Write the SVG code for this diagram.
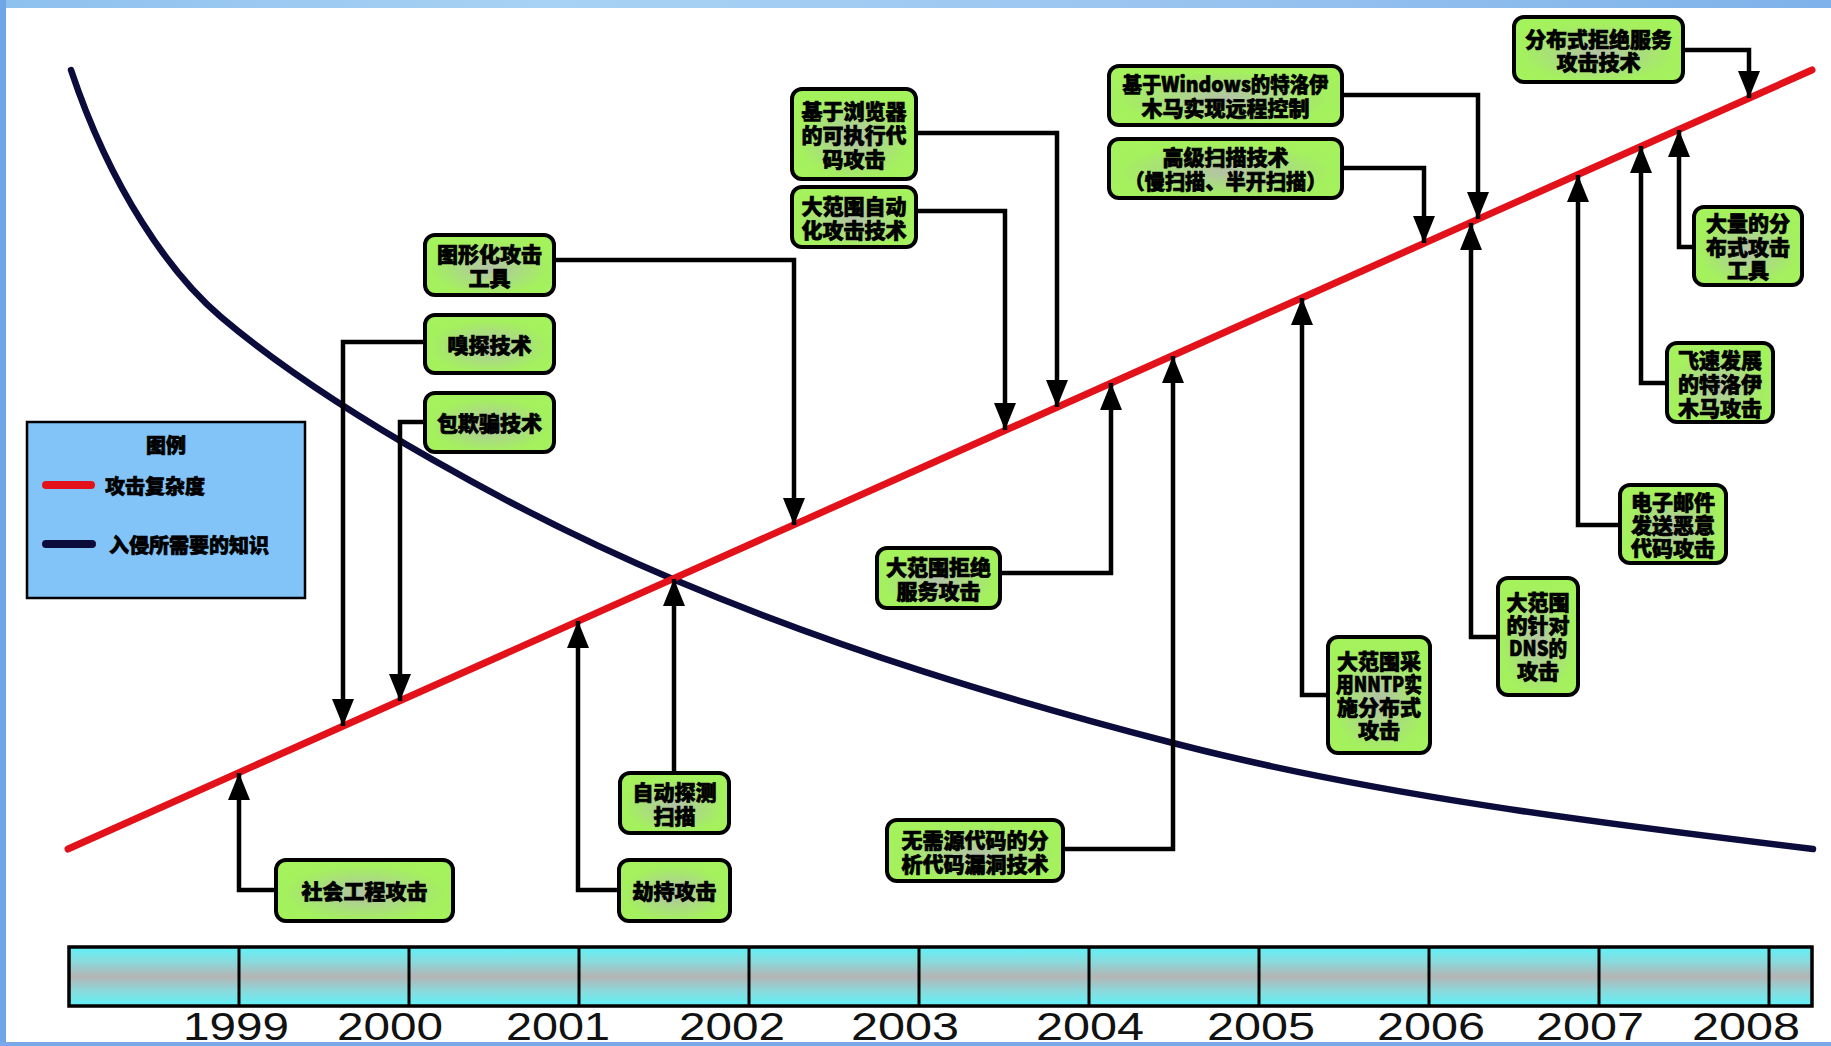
<svg xmlns="http://www.w3.org/2000/svg" width="1831" height="1046" viewBox="0 0 1831 1046">
<style>
.box{fill:url(#boxFill);stroke:#000;stroke-width:4;}
.t{font-family:"Noto Sans CJK SC","Noto Sans",sans-serif;font-weight:900;font-size:21px;fill:#000;stroke:#000;stroke-width:0.7;text-anchor:middle;dominant-baseline:central;}
.lg{font-family:"Noto Sans CJK SC","Noto Sans",sans-serif;font-weight:900;font-size:20px;fill:#000;stroke:#000;stroke-width:0.7;dominant-baseline:central;}
.yr{font-family:"Liberation Sans",Arial,sans-serif;font-size:39px;fill:#111;text-anchor:middle;}
.conn{fill:none;stroke:#000;stroke-width:4.5;stroke-linejoin:miter;marker-end:url(#ah);}
.div{stroke:#000;stroke-width:3;}
</style>
<defs>
<marker id="ah" markerUnits="userSpaceOnUse" markerWidth="27" markerHeight="22" refX="27" refY="11" orient="auto" viewBox="0 0 27 22">
<path d="M0,0 L27,11 L0,22 z" fill="#000"/>
</marker>
<radialGradient id="boxFill" cx="0.5" cy="0.55" r="0.6">
<stop offset="0" stop-color="#b4c2a8"/>
<stop offset="0.4" stop-color="#aadc80"/>
<stop offset="0.75" stop-color="#a4f05e"/>
<stop offset="1" stop-color="#a4f25c"/>
</radialGradient>
<linearGradient id="barFill" x1="0" y1="0" x2="0" y2="1">
<stop offset="0" stop-color="#5ef2f8"/>
<stop offset="0.25" stop-color="#8adadc"/>
<stop offset="0.5" stop-color="#b4b4b4"/>
<stop offset="0.75" stop-color="#8adadc"/>
<stop offset="1" stop-color="#5ef2f8"/>
</linearGradient>
<linearGradient id="topBand" x1="0" y1="0" x2="1" y2="0">
<stop offset="0" stop-color="#8ec0ee"/>
<stop offset="0.3" stop-color="#a8d2f4"/>
<stop offset="0.6" stop-color="#9cc6f0"/>
<stop offset="1" stop-color="#7fb2ea"/>
</linearGradient>
</defs>
<rect x="0" y="0" width="1831" height="1046" fill="#fff"/>
<rect x="0" y="0" width="1831" height="8" fill="url(#topBand)"/>
<rect x="0" y="0" width="6" height="1046" fill="#6ea6e6"/>
<rect x="0" y="1042" width="1831" height="4" fill="#7aa8e8"/>

<g id="legend">
<rect x="27" y="422" width="278" height="176" fill="#82c4f8" stroke="#000" stroke-width="2.5"/>
<text class="lg" x="166" y="444" text-anchor="middle">图例</text>
<line x1="46" y1="485" x2="91" y2="485" stroke="#e3121a" stroke-width="8" stroke-linecap="round"/>
<text class="lg" x="105" y="485">攻击复杂度</text>
<line x1="46" y1="544" x2="92" y2="544" stroke="#0c0c3c" stroke-width="8" stroke-linecap="round"/>
<text class="lg" x="109" y="544">入侵所需要的知识</text>
</g>

<g id="timeline">
<rect x="69" y="947" width="1743" height="59" fill="url(#barFill)" stroke="#000" stroke-width="3.5"/>
<line class="div" x1="239" y1="947" x2="239" y2="1006"/>
<line class="div" x1="409" y1="947" x2="409" y2="1006"/>
<line class="div" x1="579" y1="947" x2="579" y2="1006"/>
<line class="div" x1="749" y1="947" x2="749" y2="1006"/>
<line class="div" x1="919" y1="947" x2="919" y2="1006"/>
<line class="div" x1="1089" y1="947" x2="1089" y2="1006"/>
<line class="div" x1="1259" y1="947" x2="1259" y2="1006"/>
<line class="div" x1="1429" y1="947" x2="1429" y2="1006"/>
<line class="div" x1="1599" y1="947" x2="1599" y2="1006"/>
<line class="div" x1="1769" y1="947" x2="1769" y2="1006"/>
<text class="yr" x="236" y="1040" textLength="106" lengthAdjust="spacingAndGlyphs">1999</text>
<text class="yr" x="390" y="1040" textLength="106" lengthAdjust="spacingAndGlyphs">2000</text>
<text class="yr" x="558" y="1040" textLength="104" lengthAdjust="spacingAndGlyphs">2001</text>
<text class="yr" x="732" y="1040" textLength="106" lengthAdjust="spacingAndGlyphs">2002</text>
<text class="yr" x="905" y="1040" textLength="108" lengthAdjust="spacingAndGlyphs">2003</text>
<text class="yr" x="1090" y="1040" textLength="108" lengthAdjust="spacingAndGlyphs">2004</text>
<text class="yr" x="1261" y="1040" textLength="108" lengthAdjust="spacingAndGlyphs">2005</text>
<text class="yr" x="1431" y="1040" textLength="108" lengthAdjust="spacingAndGlyphs">2006</text>
<text class="yr" x="1590" y="1040" textLength="108" lengthAdjust="spacingAndGlyphs">2007</text>
<text class="yr" x="1746" y="1040" textLength="108" lengthAdjust="spacingAndGlyphs">2008</text>
</g>

<g id="curves">
<path d="M71,70 C111,190 171,274.5 221,317 C331,410.5 525,517 675,580 C841,650 1007,700 1173,743 C1373,795 1600,823.4 1813,849" fill="none" stroke="#0c0c3c" stroke-width="6.5" stroke-linecap="round"/>
<line x1="68" y1="849" x2="1812" y2="70" stroke="#e3121a" stroke-width="7" stroke-linecap="round"/>
</g>

<g id="connectors">
<path class="conn" d="M276,890 H239 V773"/>
<path class="conn" d="M619,890 H578 V621"/>
<path class="conn" d="M674,773 V579"/>
<path class="conn" d="M425,342 H343 V726"/>
<path class="conn" d="M425,422 H400 V701"/>
<path class="conn" d="M554,260 H794 V525"/>
<path class="conn" d="M916,211 H1005 V430"/>
<path class="conn" d="M916,133 H1057 V407"/>
<path class="conn" d="M1000,573 H1111 V383"/>
<path class="conn" d="M1063,849 H1173 V356"/>
<path class="conn" d="M1342,95 H1478 V219"/>
<path class="conn" d="M1342,168 H1424 V243"/>
<path class="conn" d="M1328,695 H1302 V298"/>
<path class="conn" d="M1498,637 H1471 V223"/>
<path class="conn" d="M1620,525 H1578 V175"/>
<path class="conn" d="M1667,383 H1641 V146"/>
<path class="conn" d="M1694,247 H1679 V130"/>
<path class="conn" d="M1683,50 H1749 V98"/>
</g>

<g id="n-social">
<rect class="box" x="276" y="860" width="177" height="61" rx="10"/>
<text class="t" x="364.5" y="890">社会工程攻击</text>
</g>
<g id="n-hijack">
<rect class="box" x="619" y="860" width="111" height="61" rx="10"/>
<text class="t" x="674.5" y="890">劫持攻击</text>
</g>
<g id="n-autoscan">
<rect class="box" x="620" y="773" width="109" height="60" rx="10"/>
<text class="t" x="674.5" y="791">自动探测</text>
<text class="t" x="674.5" y="815">扫描</text>
</g>
<g id="n-sniff">
<rect class="box" x="425" y="315" width="129" height="58" rx="10"/>
<text class="t" x="489.5" y="344">嗅探技术</text>
</g>
<g id="n-spoof">
<rect class="box" x="425" y="393" width="129" height="59" rx="10"/>
<text class="t" x="489.5" y="422">包欺骗技术</text>
</g>
<g id="n-gui">
<rect class="box" x="425" y="235" width="129" height="60" rx="10"/>
<text class="t" x="489.5" y="253">图形化攻击</text>
<text class="t" x="489.5" y="277">工具</text>
</g>
<g id="n-browser">
<rect class="box" x="792" y="89" width="124" height="90" rx="10"/>
<text class="t" x="854" y="110">基于浏览器</text>
<text class="t" x="854" y="134">的可执行代</text>
<text class="t" x="854" y="158">码攻击</text>
</g>
<g id="n-autoattack">
<rect class="box" x="792" y="187" width="124" height="60" rx="10"/>
<text class="t" x="854" y="205">大范围自动</text>
<text class="t" x="854" y="229">化攻击技术</text>
</g>
<g id="n-dos">
<rect class="box" x="877" y="548" width="123" height="60" rx="10"/>
<text class="t" x="938.5" y="566">大范围拒绝</text>
<text class="t" x="938.5" y="590">服务攻击</text>
</g>
<g id="n-nosource">
<rect class="box" x="887" y="820" width="176" height="61" rx="10"/>
<text class="t" x="975" y="839">无需源代码的分</text>
<text class="t" x="975" y="863">析代码漏洞技术</text>
</g>
<g id="n-windows">
<rect class="box" x="1109" y="66" width="233" height="59" rx="10"/>
<text class="t" x="1225.5" y="83" textLength="206" lengthAdjust="spacingAndGlyphs">基于Windows的特洛伊</text>
<text class="t" x="1225.5" y="107">木马实现远程控制</text>
</g>
<g id="n-advscan">
<rect class="box" x="1109" y="139" width="233" height="59" rx="10"/>
<text class="t" x="1225.5" y="156">高级扫描技术</text>
<text class="t" x="1225.5" y="180" textLength="202" lengthAdjust="spacingAndGlyphs">（慢扫描、半开扫描）</text>
</g>
<g id="n-nntp">
<rect class="box" x="1328" y="637" width="102" height="116" rx="10"/>
<text class="t" x="1379" y="660">大范围采</text>
<text class="t" x="1379" y="683" textLength="86" lengthAdjust="spacingAndGlyphs">用NNTP实</text>
<text class="t" x="1379" y="706">施分布式</text>
<text class="t" x="1379" y="729">攻击</text>
</g>
<g id="n-dns">
<rect class="box" x="1498" y="578" width="80" height="117" rx="10"/>
<text class="t" x="1538" y="601">大范围</text>
<text class="t" x="1538" y="624">的针对</text>
<text class="t" x="1538" y="647" textLength="58" lengthAdjust="spacingAndGlyphs">DNS的</text>
<text class="t" x="1538" y="670">攻击</text>
</g>
<g id="n-email">
<rect class="box" x="1620" y="485" width="106" height="78" rx="10"/>
<text class="t" x="1673" y="501">电子邮件</text>
<text class="t" x="1673" y="524">发送恶意</text>
<text class="t" x="1673" y="547">代码攻击</text>
</g>
<g id="n-trojan">
<rect class="box" x="1667" y="343" width="106" height="79" rx="10"/>
<text class="t" x="1720" y="359">飞速发展</text>
<text class="t" x="1720" y="383">的特洛伊</text>
<text class="t" x="1720" y="407">木马攻击</text>
</g>
<g id="n-ddostools">
<rect class="box" x="1694" y="207" width="108" height="78" rx="10"/>
<text class="t" x="1748" y="222">大量的分</text>
<text class="t" x="1748" y="246">布式攻击</text>
<text class="t" x="1748" y="269">工具</text>
</g>
<g id="n-ddos">
<rect class="box" x="1514" y="17" width="169" height="65" rx="10"/>
<text class="t" x="1598.5" y="38">分布式拒绝服务</text>
<text class="t" x="1598.5" y="61">攻击技术</text>
</g>
</svg>
